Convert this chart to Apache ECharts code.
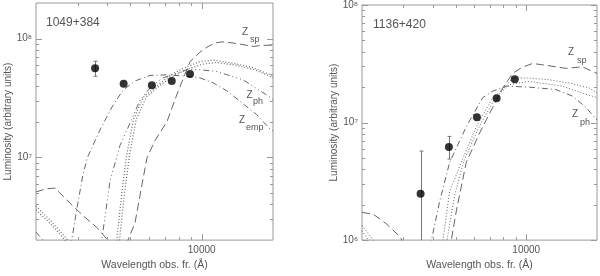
<!DOCTYPE html>
<html><head><meta charset="utf-8">
<script src="https://cdn.jsdelivr.net/npm/echarts@6/dist/echarts.min.js"></script>
<style>html,body{margin:0;padding:0;background:#fff}#c{width:600px;height:276px}</style>
</head><body><div id="c"></div>
<script>
// ---------- data ----------
const xRange = [2000, 20000];
const yRangeA = [2e6, 2e8];
const yRangeB = [1e6, 1e8];

const filterWl = [3551, 4686, 6166, 7480, 8932];
const lumA   = [5.63e7, 4.17e7, 4.04e7, 4.39e7, 5.03e7];
const errLoA = [4.82e7, null, null, null, null];
const errHiA = [6.45e7, null, null, null, null];
const lumB   = [2.48e6, 6.18e6, 1.11e7, 1.61e7, 2.33e7];
const errLoB = [0, 4.89e6, null, null, null];
const errHiB = [5.72e6, 7.62e6, null, null, null];

// template SEDs, panel A (1049+384)
const zspA = [[2000,5.1e6],[2200,5.4e6],[2405,5.5e6],[2784,4.1e6],[3167,3.2e6],[3608,2.56e6],[3972,2.05e6],[4200,1.6e6],[4600,1.4e6],[4890,2.0e6],[5234,2.8e6],[5602,5.9e6],[5881,9.9e6],[6353,1.38e7],[7141,2.0e7],[7870,3.4e7],[8930,6.4e7],[9840,7.7e7],[10532,8.5e7],[11383,9.2e7],[12184,9.4e7],[13561,9.2e7],[14514,9.0e7],[16468,8.6e7],[18152,8.8e7],[20000,8.8e7]];
const dot1A = [[2000,3.87e6],[2292,2.95e6],[2695,2.05e6],[2900,1.6e6],[3800,1.3e6],[4200,1.5e6],[4382,2.0e6],[4598,4.9e6],[4828,1.04e7],[5148,2.07e7],[5672,3.2e7],[6461,4.0e7],[7592,5.1e7],[8648,5.8e7],[9840,6.4e7],[11198,6.6e7],[13600,6.2e7],[16516,5.7e7],[18812,5.1e7],[20000,4.9e7]];
const dot2A = [[2000,3.6e6],[2300,2.75e6],[2650,2.0e6],[2850,1.6e6],[3800,1.3e6],[4300,1.5e6],[4500,2.0e6],[4720,4.9e6],[4960,1.04e7],[5290,2.07e7],[5830,3.2e7],[6640,4.0e7],[7800,5.0e7],[8900,5.6e7],[10100,6.1e7],[11500,6.3e7],[13800,6.0e7],[16600,5.5e7],[20000,4.7e7]];
const zphA = [[2000,2.34e6],[2140,2.0e6],[2300,1.6e6],[3000,1.2e6],[3600,1.4e6],[3788,2.0e6],[4104,6.3e6],[4524,1.26e7],[4986,1.94e7],[5494,3.03e7],[6155,4.0e7],[6871,4.67e7],[7870,5.13e7],[8700,5.5e7],[9500,5.5e7],[10532,5.4e7],[11500,5.3e7],[12754,4.97e7],[14940,4.5e7],[17625,3.64e7],[19424,3.21e7],[20000,3.03e7]];
const zempA = [[2700,1.4e6],[2830,2.0e6],[2970,3.6e6],[3150,7.0e6],[3300,1.0e7],[3724,1.7e7],[4226,2.75e7],[4672,3.7e7],[5234,4.4e7],[6054,4.9e7],[7122,4.95e7],[8344,4.85e7],[9840,4.67e7],[11164,4.25e7],[12754,3.64e7],[14940,2.83e7],[17070,2.29e7],[19424,1.73e7],[20000,1.67e7]];

// template SEDs, panel B (1136+420)
const zspB = [[2000,1.72e6],[2233,1.66e6],[2546,1.37e6],[2898,1.07e6],[3100,0.85e6],[4500,0.7e6],[4798,1.0e6],[5040,1.77e6],[5554,4.58e6],[6325,8.11e6],[7202,1.35e7],[7940,1.97e7],[8754,2.62e7],[9600,2.95e7],[10636,3.18e7],[12124,3.07e7],[14740,2.89e7],[17330,2.98e7],[20000,2.62e7]];
const zphB = [[3700,0.7e6],[3948,1.0e6],[4282,2.14e6],[4720,4.58e6],[5554,9.21e6],[6532,1.63e7],[7202,1.85e7],[8206,2.04e7],[10300,2.0e7],[13366,1.91e7],[15720,1.68e7],[17912,1.35e7],[20000,1.05e7]];
const dot1B = [[2000,1.33e6],[2233,1.0e6],[2400,0.8e6],[4200,0.7e6],[4422,1.0e6],[4720,2.59e6],[5290,4.58e6],[6124,9.21e6],[7202,1.63e7],[7940,1.91e7],[8754,2.39e7],[10300,2.39e7],[12522,2.31e7],[15220,2.17e7],[18500,1.97e7],[20000,1.79e7]];
const dot2B = [[2000,1.2e6],[2130,1.0e6],[2300,0.8e6],[4400,0.7e6],[4600,1.0e6],[4956,2.4e6],[5400,4.58e6],[6300,9.21e6],[7400,1.63e7],[8474,2.1e7],[10300,2.24e7],[14258,2.04e7],[17912,1.74e7],[20000,1.63e7]];

// ticks
const xMajorTicks = [10000];
const xMinorTicks = [3000,4000,5000,6000,7000,8000,9000];
const yMajorA = [1e7, 1e8];
const yMinorA = [3e6,4e6,5e6,6e6,7e6,8e6,9e6,2e7,3e7,4e7,5e7,6e7,7e7,8e7,9e7];
const yMajorB = [1e6, 1e7, 1e8];
const yMinorB = [2e6,3e6,4e6,5e6,6e6,7e6,8e6,9e6,2e7,3e7,4e7,5e7,6e7,7e7,8e7,9e7];

const titleA = '1049+384', titleB = '1136+420';
const xName = 'Wavelength obs. fr. (Å)';
const yName = 'Luminosity (arbitrary units)';

// ---------- chart ----------
const FONT = 'Liberation Sans, Arial, DejaVu Sans, sans-serif';
const TXT = '#555', FRAME = '#999', LINE = '#666';
const SUP = {'6':'⁶','7':'⁷','8':'⁸'};
const yRanges = [yRangeA, yRangeB];

const DASH = [8,4], DOT = [1,2], DASHDOT = [6,3,1,3], DASH3DOT = [6,3,1,3,1,3,1,3];

function lineS(gi, data, type, w) {
  return {type:'line', xAxisIndex:gi, yAxisIndex:gi, data:data, showSymbol:false, symbol:'none',
    clip:true, silent:true, z:3, lineStyle:{color:LINE, width:w||1, type:type}};
}
function tickS(gi, vals, axis, len) {
  return {type:'custom', xAxisIndex:gi, yAxisIndex:gi, silent:true, z:5,
    data: vals.map(v => axis === 'x' ? [v, yRanges[gi][0]] : [xRange[0], v]),
    renderItem: function (params, api) {
      const cs = params.coordSys;
      const p = api.coord([api.value(0), api.value(1)]);
      const st = {stroke:FRAME, lineWidth:1};
      if (axis === 'x') {
        const x = Math.round(p[0]) + 0.5, b = cs.y + cs.height;
        return {type:'group', children:[
          {type:'line', shape:{x1:x, y1:b, x2:x, y2:b - len}, style:st},
          {type:'line', shape:{x1:x, y1:cs.y, x2:x, y2:cs.y + len}, style:st}]};
      }
      const y = Math.round(p[1]) + 0.5, r = cs.x + cs.width;
      return {type:'group', children:[
        {type:'line', shape:{x1:cs.x, y1:y, x2:cs.x + len, y2:y}, style:st},
        {type:'line', shape:{x1:r, y1:y, x2:r - len, y2:y}, style:st}]};
    }};
}
function errS(gi, lo, hi) {
  const data = [];
  filterWl.forEach((w, i) => { if (hi[i] != null) data.push([w, lo[i], hi[i]]); });
  return {type:'custom', xAxisIndex:gi, yAxisIndex:gi, silent:true, z:6, encode:{x:0, y:2},
    data:data,
    renderItem: function (params, api) {
      const cs = params.coordSys, b = cs.y + cs.height;
      const w = api.value(0), l = api.value(1), h = api.value(2);
      const pt = api.coord([w, h]);
      let yl = l > 0 ? api.coord([w, l])[1] : b;
      yl = Math.min(yl, b);
      const x = Math.round(pt[0]) + 0.5;
      const st = {stroke:'#777', lineWidth:1};
      const ch = [{type:'line', shape:{x1:x, y1:pt[1], x2:x, y2:yl}, style:st},
                  {type:'line', shape:{x1:x - 2, y1:pt[1], x2:x + 2, y2:pt[1]}, style:st}];
      if (l > 0) ch.push({type:'line', shape:{x1:x - 2, y1:yl, x2:x + 2, y2:yl}, style:st});
      return {type:'group', children:ch};
    }};
}
function ptsS(gi, lum) {
  return {type:'scatter', xAxisIndex:gi, yAxisIndex:gi, symbol:'circle', symbolSize:8, z:10, silent:true,
    itemStyle:{color:'#000'}, data: filterWl.map((w, i) => [w, lum[i]])};
}
function xAx(gi) {
  return {type:'log', logBase:10, gridIndex:gi, min:xRange[0], max:xRange[1],
    axisLine:{show:false}, axisTick:{show:false}, splitLine:{show:false},
    axisLabel:{color:TXT, fontFamily:FONT, fontSize:10, margin:5,
      formatter: v => (Math.abs(v - 10000) < 1 ? '10000' : '')},
    name:xName, nameLocation:'middle', nameGap:15,
    nameTextStyle:{color:TXT, fontFamily:FONT, fontSize:10.5}};
}
function yAx(gi, gap) {
  return {type:'log', logBase:10, gridIndex:gi, min:yRanges[gi][0], max:yRanges[gi][1],
    axisLine:{show:false}, axisTick:{show:false}, splitLine:{show:false},
    axisLabel:{color:TXT, fontFamily:FONT, fontSize:10, margin:4,
      formatter: v => { const e = Math.log10(v); const r = Math.round(e);
        return Math.abs(e - r) < 1e-6 ? '10' + (SUP[String(r)] || '') : ''; }},
    name:yName, nameLocation:'middle', nameGap:gap,
    nameTextStyle:{color:TXT, fontFamily:FONT, fontSize:10}};
}
function txt(x, y, s, size, align) {
  return {type:'text', x:x, y:y, silent:true,
    style:{text:s, fill:TXT, font:size + 'px ' + FONT, textAlign:align || 'left', textVerticalAlign:'middle'}};
}

const chart = echarts.init(document.getElementById('c'), null, {renderer:'canvas'});
chart.setOption({
  animation:false,
  backgroundColor:'#fff',
  grid:[
    {left:36, top:3, width:237, height:245, show:true, borderColor:FRAME, borderWidth:1, backgroundColor:'transparent'},
    {left:362, top:3, width:236, height:245, show:true, borderColor:FRAME, borderWidth:1, backgroundColor:'transparent'}
  ],
  xAxis:[xAx(0), xAx(1)],
  yAxis:[yAx(0, 17), yAx(1, 18)],
  series:[
    lineS(0, zspA, DASH), lineS(0, dot1A, DOT, 1.2), lineS(0, dot2A, DOT, 1.2),
    lineS(0, zphA, DASH3DOT), lineS(0, zempA, DASHDOT),
    lineS(1, zspB, DASH), lineS(1, dot1B, DOT), lineS(1, dot2B, DOT), lineS(1, zphB, DASHDOT),
    tickS(0, xMajorTicks, 'x', 6), tickS(0, xMinorTicks, 'x', 3),
    tickS(1, xMajorTicks, 'x', 6), tickS(1, xMinorTicks, 'x', 3),
    tickS(0, yMajorA, 'y', 6), tickS(0, yMinorA, 'y', 3),
    tickS(1, yMajorB, 'y', 6), tickS(1, yMinorB, 'y', 3),
    errS(0, errLoA, errHiA), errS(1, errLoB, errHiB),
    ptsS(0, lumA), ptsS(1, lumB)
  ],
  graphic:[
    txt(46, 23, titleA, 12), txt(373, 25, titleB, 12),
    txt(242, 32, 'Z', 10), txt(250, 39.5, 'sp', 9),
    txt(246.5, 95, 'Z', 10), txt(253, 102, 'ph', 9),
    txt(239, 120, 'Z', 10), txt(246, 128, 'emp', 9),
    txt(568, 52.5, 'Z', 10), txt(577, 61, 'sp', 9),
    txt(572, 114, 'Z', 10), txt(580, 122.5, 'ph', 9)
  ]
});
</script></body></html>
